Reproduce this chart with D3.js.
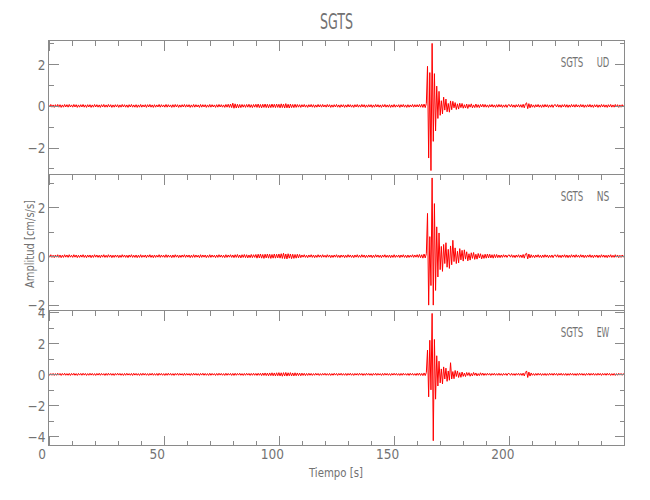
<!DOCTYPE html>
<html><head><meta charset="utf-8">
<script src="https://cdn.jsdelivr.net/npm/d3@7"></script>
<style>body{margin:0;background:#fff}svg{display:block}</style>
</head><body>
<svg id="chart" width="650" height="500"></svg>
<script>
// ---------------- data ----------------
const chartTitle = "SGTS";
const station = "SGTS";
const components = ["UD", "NS", "EW"];
const xTitle = "Tiempo [s]";
const yTitle = "Amplitud [cm/s/s]";
const sampleInterval = 0.5;            // seconds between samples
const timeDomain = [0, 250];
const timeMajorTicks = [0, 50, 100, 150, 200];
const timeMinorTicks = [10,20,30,40,60,70,80,90,110,120,130,140,160,170,180,190,210,220,230,240];
// amplitudes in hundredths of cm/s/s, one value per sample (0 .. 250 s)
const udAmp = [
6,-5,7,-6,5,-7,6,-5,7,-6,6,-7,5,-6,7,-5,6,-6,7,-5,
5,-6,7,-5,6,-7,5,-6,6,-5,7,-6,5,-7,6,-5,6,-7,5,-6,
7,-5,6,-6,5,-7,6,-5,7,-6,5,-6,7,-5,6,-7,5,-6,6,-5,
6,-7,5,-6,7,-5,6,-6,5,-7,6,-5,7,-6,5,-6,6,-7,5,-6,
7,-6,5,-5,6,-7,6,-5,7,-6,5,-7,6,-6,5,-5,7,-6,6,-5,
5,-6,7,-6,6,-5,5,-7,6,-6,7,-5,6,-7,5,-6,6,-5,7,-6,
6,-5,6,-7,5,-6,7,-6,6,-5,5,-7,7,-6,6,-5,6,-7,5,-6,
7,-6,6,-5,5,-7,6,-6,7,-5,6,-6,5,-7,7,-6,8,-7,9,-8,
13,-11,10,-10,8,-9,7,-8,7,-6,6,-7,7,-6,8,-7,6,-8,7,-6,
8,-7,9,-8,7,-9,8,-7,9,-8,8,-9,7,-8,9,-7,8,-8,9,-7,
8,-9,10,-8,9,-10,11,-9,8,-10,9,-8,7,-8,8,-7,7,-6,6,-7,
6,-5,7,-6,5,-7,6,-5,7,-6,6,-7,5,-6,7,-5,6,-6,7,-5,
5,-6,7,-5,6,-7,5,-6,6,-5,7,-6,5,-7,6,-5,6,-7,5,-6,
7,-5,6,-6,5,-7,6,-5,7,-6,5,-6,7,-5,6,-7,5,-6,6,-5,
6,-7,5,-6,7,-5,6,-6,5,-7,6,-5,7,-6,5,-6,6,-7,5,-6,
7,-6,5,-5,6,-7,6,-5,7,-6,5,-7,6,-6,5,-5,7,-6,6,-5,
6,-5,7,-6,8,-7,9,-8,12,190,-250,160,-310,300,-170,155,-120,95,-60,70,
-45,25,-38,42,-20,33,-28,12,-30,24,-18,22,-9,16,-17,10,-15,13,-8,12,
-11,6,-10,9,-12,7,-6,10,-9,5,-8,9,-7,6,-8,7,-5,8,-6,7,
-6,5,-7,6,-5,7,-6,5,-7,6,-6,7,-5,6,-7,5,-6,6,-7,5,
6,-5,7,-6,5,-7,6,-5,7,-6,6,-7,8,-9,10,15,-13,11,-9,8,
-6,5,-7,6,-5,7,-6,5,-7,6,-6,7,-5,6,-7,5,-6,6,-7,5,
6,-5,7,-6,5,-7,6,-5,7,-6,6,-7,5,-6,7,-5,6,-6,7,-5,
5,-6,7,-5,6,-7,5,-6,6,-5,7,-6,5,-7,6,-5,6,-7,5,-6,
7,-5,6,-6,5,-7,6,-5,7,-6,5,-6,7,-5,6,-7,5,-6,6,-5,
6];
const nsAmp = [
5,-4,6,-5,4,-6,5,-4,6,-5,5,-6,4,-5,6,-4,5,-5,6,-4,
4,-5,6,-4,5,-6,4,-5,5,-4,6,-5,4,-6,5,-4,5,-6,4,-5,
6,-4,5,-5,4,-6,5,-4,6,-5,4,-5,6,-4,5,-6,4,-5,5,-4,
5,-6,4,-5,6,-4,5,-5,4,-6,5,-4,6,-5,4,-5,5,-6,4,-5,
6,-5,4,-4,5,-6,5,-4,6,-5,4,-6,5,-5,4,-4,6,-5,5,-4,
4,-5,6,-5,5,-4,4,-6,5,-5,6,-4,5,-6,4,-5,5,-4,6,-5,
5,-4,5,-6,4,-5,6,-5,5,-4,4,-6,6,-5,5,-4,5,-6,4,-5,
6,-5,5,-4,4,-6,5,-5,6,-4,5,-5,4,-6,6,-5,5,-4,6,-5,
5,-6,6,-5,7,-6,5,-7,6,-5,7,-6,6,-7,5,-6,7,-6,6,-5,
7,-8,8,-7,9,-8,7,-9,8,-7,9,-8,8,-9,7,-8,9,-8,8,-7,
9,-8,10,-9,12,-10,9,-11,10,-8,9,-10,8,-9,7,-8,8,-7,7,-6,
5,-4,6,-5,4,-6,5,-4,6,-5,5,-6,4,-5,6,-4,5,-5,6,-4,
4,-5,6,-4,5,-6,4,-5,5,-4,6,-5,4,-6,5,-4,5,-6,4,-5,
6,-4,5,-5,4,-6,5,-4,6,-5,4,-5,6,-4,5,-6,4,-5,5,-4,
5,-6,4,-5,6,-4,5,-5,4,-6,5,-4,6,-5,4,-5,5,-6,4,-5,
6,-5,4,-4,5,-6,5,-4,6,-5,4,-6,5,-5,4,-4,6,-5,5,-4,
6,-5,7,-6,6,-8,9,-7,10,175,-200,80,-120,320,-200,215,-140,120,-85,95,
-55,40,-62,48,-30,55,-45,28,-50,42,-35,65,-22,34,-30,20,-27,31,-15,24,
-20,26,-12,18,-19,10,-16,14,-9,15,-13,8,-12,11,-7,10,-11,6,-9,8,
-8,9,-7,8,-7,6,-8,7,-6,7,-6,5,-6,5,-5,6,-4,5,-5,4,
5,-4,6,-5,4,-6,5,-4,6,-5,5,-6,7,-8,9,12,-11,9,-7,6,
-5,4,-6,5,-4,6,-5,4,-6,5,-5,6,-4,5,-6,4,-5,5,-6,4,
5,-4,6,-5,4,-6,5,-4,6,-5,5,-6,4,-5,6,-4,5,-5,6,-4,
4,-5,6,-4,5,-6,4,-5,5,-4,6,-5,4,-6,5,-4,5,-6,4,-5,
6,-4,5,-5,4,-6,5,-4,6,-5,4,-5,6,-4,5,-6,4,-5,5,-4,
5];
const ewAmp = [
7,-6,5,-6,6,-7,5,-6,7,-5,6,-7,6,-5,7,-6,5,-6,6,-7,
6,-5,7,-6,5,-7,6,-5,6,-6,7,-5,6,-7,5,-6,7,-5,6,-6,
5,-7,6,-5,7,-6,6,-5,5,-7,6,-6,7,-5,6,-6,5,-7,6,-5,
7,-5,6,-6,5,-7,6,-6,7,-5,5,-6,6,-7,7,-5,6,-6,5,-7,
6,-6,7,-5,6,-6,5,-7,6,-5,7,-6,5,-6,6,-7,7,-5,6,-6,
5,-7,6,-6,7,-5,6,-6,5,-7,6,-5,7,-6,6,-5,5,-7,7,-6,
6,-5,5,-7,6,-6,7,-5,6,-6,5,-7,6,-5,7,-6,6,-6,5,-7,
7,-6,6,-5,5,-7,6,-6,7,-5,6,-6,5,-7,7,-6,6,-5,6,-7,
6,-7,7,-6,6,-5,7,-6,5,-7,6,-6,7,-5,6,-7,6,-6,7,-6,
6,-7,7,-6,7,-8,8,-7,9,-8,8,-9,9,-8,10,-9,9,-10,10,-9,
11,-10,10,-12,11,-10,12,-11,10,-9,11,-10,9,-10,10,-9,9,-8,8,-9,
8,-7,7,-8,6,-7,7,-6,6,-7,5,-6,7,-5,6,-7,5,-6,6,-5,
7,-6,5,-6,6,-7,5,-6,7,-5,6,-7,6,-5,7,-6,5,-6,6,-7,
6,-5,7,-6,5,-7,6,-5,6,-6,7,-5,6,-7,5,-6,7,-5,6,-6,
5,-7,6,-5,7,-6,6,-5,5,-7,6,-6,7,-5,6,-6,5,-7,6,-5,
7,-5,6,-6,5,-7,6,-6,7,-5,5,-6,6,-7,7,-5,6,-6,5,-7,
7,-6,8,-7,6,-8,9,-8,12,157,-145,220,-100,393,-428,225,-160,120,-75,85,
-55,35,-62,48,-30,40,-45,22,-38,75,-30,18,-28,25,-14,22,-20,11,-19,15,
-13,8,-14,12,-7,11,-12,6,-10,12,-6,9,-10,5,-8,10,-6,8,-7,6,
-6,7,-5,6,-7,6,-5,7,-6,5,-6,7,-6,5,-7,6,-5,6,-7,6,
5,-6,7,-6,5,-7,6,-5,7,-6,6,-7,8,-10,12,22,-20,15,-11,9,
-6,5,-7,6,-6,7,-5,6,-7,5,-6,6,-7,5,-6,7,-5,6,-6,7,
-5,6,-7,6,-5,7,-6,5,-6,6,-7,5,-6,7,-5,6,-6,5,-7,6,
-6,7,-5,6,-6,5,-7,6,-5,7,-6,6,-5,7,-6,5,-6,7,-5,6,
-7,6,-5,6,-6,7,-5,6,-7,5,-6,6,-7,5,-6,7,-5,6,-6,5,
-6];
const traces = [udAmp, nsAmp, ewAmp];
const yDomains = [[-3.29, 3.14], [-2.22, 3.34], [-4.59, 4.12]];
const yMajorTicks = [[-2, 0, 2], [-2, 0, 2], [-4, -2, 0, 2, 4]];
const yMinorTicks = [[-3, -1, 1, 3], [-1, 1, 3], [-3, -1, 1, 3]];

// ---------------- layout ----------------
const W = 650, H = 500;
const left = 48.5, right = 624.5;
const panelEdges = [40.5, 174.5, 310.5, 445.5];
const axisColor = "#8a8a8a", textColor = "#727272";
const font = "'Liberation Sans Narrow','DejaVu Sans Condensed',Arial,sans-serif";

const svg = d3.select("#chart");
svg.append("rect").attr("width", W).attr("height", H).attr("fill", "#fff");

const x = d3.scaleLinear().domain(timeDomain).range([left, right]);

function styleAxis(g) {
  g.select(".domain").remove();
  g.selectAll(".tick line").attr("stroke", axisColor).attr("shape-rendering", "crispEdges");
  g.selectAll(".tick text").attr("fill", textColor).attr("font-family", font).attr("font-size", 13.5);
}

traces.forEach((amp, i) => {
  const top = panelEdges[i], bottom = panelEdges[i + 1];
  const y = d3.scaleLinear().domain(yDomains[i]).range([bottom, top]);
  const g = svg.append("g");

  // trace
  const line = d3.line()
    .x((d, k) => x(k * sampleInterval))
    .y(d => y(d / 100));
  g.append("path").datum(amp)
    .attr("d", line)
    .attr("fill", "none")
    .attr("stroke", "#ff0000")
    .attr("stroke-width", 1)
    .attr("stroke-linejoin", "round");

  // left axis
  g.append("g").attr("transform", `translate(${left},0)`)
    .call(d3.axisLeft(y).tickValues(yMajorTicks[i]).tickSize(-10).tickPadding(3)
      .tickFormat(d => d < 0 ? "\u2212" + Math.abs(d) : d))
    .call(styleAxis)
    .call(s => s.selectAll(".tick text").attr("dy", "0.36em"));
  g.append("g").attr("transform", `translate(${left},0)`)
    .call(d3.axisLeft(y).tickValues(yMinorTicks[i]).tickSize(-5).tickFormat(""))
    .call(styleAxis);
  // right axis
  g.append("g").attr("transform", `translate(${right},0)`)
    .call(d3.axisRight(y).tickValues(yMajorTicks[i]).tickSize(-10).tickFormat(""))
    .call(styleAxis);
  g.append("g").attr("transform", `translate(${right},0)`)
    .call(d3.axisRight(y).tickValues(yMinorTicks[i]).tickSize(-5).tickFormat(""))
    .call(styleAxis);
  // top axis ticks (pointing down)
  g.append("g").attr("transform", `translate(0,${top})`)
    .call(d3.axisTop(x).tickValues(timeMajorTicks).tickSize(-10).tickFormat(""))
    .call(styleAxis);
  g.append("g").attr("transform", `translate(0,${top})`)
    .call(d3.axisTop(x).tickValues(timeMinorTicks).tickSize(-5).tickFormat(""))
    .call(styleAxis);
  if (i === traces.length - 1) {
    g.append("g").attr("transform", `translate(0,${bottom})`)
      .call(d3.axisBottom(x).tickValues(timeMajorTicks).tickSize(-10).tickPadding(4))
      .call(styleAxis)
      .call(s => s.selectAll(".tick text").attr("dx", -7));
    g.append("g").attr("transform", `translate(0,${bottom})`)
      .call(d3.axisBottom(x).tickValues(timeMinorTicks).tickSize(-5).tickFormat(""))
      .call(styleAxis);
  }
  // frame
  g.append("rect")
    .attr("x", left).attr("y", top)
    .attr("width", right - left).attr("height", bottom - top)
    .attr("fill", "none").attr("stroke", axisColor)
    .attr("shape-rendering", "crispEdges");

  // station / component label
  g.append("text").text(station)
    .attr("x", right - 63.8).attr("y", top + 26)
    .attr("textLength", 22.6).attr("lengthAdjust", "spacingAndGlyphs")
    .attr("font-family", font).attr("font-size", 13.5).attr("fill", textColor);
  g.append("text").text(components[i])
    .attr("x", right - 27.8).attr("y", top + 26)
    .attr("textLength", 12.6).attr("lengthAdjust", "spacingAndGlyphs")
    .attr("font-family", font).attr("font-size", 13.5).attr("fill", textColor);
});

// titles
svg.append("text").text(chartTitle)
  .attr("x", (left + right) / 2).attr("y", 28.5)
  .attr("text-anchor", "middle")
  .attr("textLength", 33).attr("lengthAdjust", "spacingAndGlyphs")
  .attr("font-family", font).attr("font-size", 22).attr("fill", textColor);

svg.append("text").text(xTitle)
  .attr("x", 336).attr("y", 477.3)
  .attr("text-anchor", "middle")
  .attr("textLength", 54).attr("lengthAdjust", "spacingAndGlyphs")
  .attr("font-family", font).attr("font-size", 12).attr("fill", textColor);

svg.append("text").text(yTitle)
  .attr("transform", "translate(33.5,244) rotate(-90)")
  .attr("text-anchor", "middle")
  .attr("textLength", 88).attr("lengthAdjust", "spacingAndGlyphs")
  .attr("font-family", font).attr("font-size", 12).attr("fill", textColor);
</script>
</body></html>
